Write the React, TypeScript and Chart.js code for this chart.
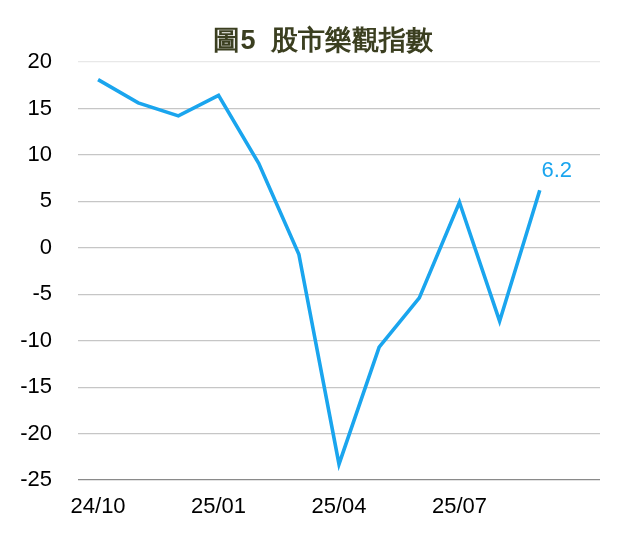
import React, { useEffect, useRef } from "react";
import { Chart, registerables } from "chart.js";

Chart.register(...registerables);

const categories = ["24/10", "24/11", "24/12", "25/01", "25/02", "25/03", "25/04", "25/05", "25/06", "25/07", "25/08", "25/09", "25/10"];
const optimismIndex: (number | null)[] = [18.1, 15.6, 14.2, 16.4, 9.1, -0.7, -23.3, -10.7, -5.4, 4.9, -7.9, 6.2, null];
const shownTickLabels = ["24/10", "25/01", "25/04", "25/07"];
const yTicks = { min: -25, max: 20, step: 5 };
const titleText = "圖5  股市樂觀指數";
const lastLabel = "6.2";

const FONT = "'Liberation Sans', Arial, Helvetica, sans-serif";
const BLUE = "#1aa5ee";

const lastValuePlugin = {
  id: "lastValue",
  afterDatasetsDraw(chart: any) {
    const meta = chart.getDatasetMeta(0);
    const idx = optimismIndex.findIndex((v) => v !== null && String(v) === lastLabel);
    const pt = meta.data[idx];
    if (!pt) return;
    const ctx = chart.ctx;
    ctx.save();
    ctx.font = `22px ${FONT}`;
    ctx.fillStyle = BLUE;
    ctx.textAlign = "center";
    ctx.textBaseline = "middle";
    ctx.fillText(lastLabel, pt.x + 17, pt.y - 19);
    ctx.restore();
  },
};

const titlePlugin = {
  id: "customTitle",
  afterDraw(chart: any) {
    const ctx = chart.ctx;
    ctx.save();
    ctx.font = `bold 27px ${FONT}`;
    ctx.fillStyle = "#3b3f20";
    ctx.textAlign = "center";
    ctx.textBaseline = "middle";
    ctx.fillText(titleText, 323, 42);
    ctx.restore();
  },
};

export default function App() {
  const ref = useRef<HTMLCanvasElement | null>(null);
  useEffect(() => {
    document.body.style.margin = "0";
    const canvas = ref.current;
    if (!canvas) return;
    const chart = new Chart(canvas, {
      type: "line",
      data: {
        labels: categories,
        datasets: [
          {
            data: optimismIndex,
            borderColor: BLUE,
            backgroundColor: BLUE,
            borderWidth: 3.6,
            pointRadius: 0,
            tension: 0,
            spanGaps: false,
          },
        ],
      },
      options: {
        animation: false,
        responsive: false,
        maintainAspectRatio: false,
        layout: { padding: { left: 0, right: 26, top: 62, bottom: 0 } },
        plugins: {
          legend: { display: false },
          tooltip: { enabled: false },
          title: { display: false },
        },
        scales: {
          x: {
            type: "category",
            offset: true,
            grid: { display: false, drawTicks: false },
            border: { display: false },
            ticks: {
              autoSkip: false,
              maxRotation: 0,
              padding: 14,
              color: "#000",
              font: { family: FONT, size: 22 },
              callback: function (_v: any, i: number) {
                const l = categories[i];
                return shownTickLabels.includes(l) ? l : "";
              },
            },
            afterFit: (s: any) => {
              s.height = 64;
            },
          },
          y: {
            min: yTicks.min,
            max: yTicks.max,
            grid: {
              drawTicks: false,
              lineWidth: 1.2,
              color: (c: any) => {
                const v = c.tick?.value;
                if (v === yTicks.min) return "#8a8a8a";
                if (v === yTicks.max) return "#e8e8e8";
                return "#c6c6c6";
              },
            },
            border: { display: false },
            ticks: {
              stepSize: yTicks.step,
              padding: 26,
              color: "#000",
              font: { family: FONT, size: 22 },
            },
            afterFit: (s: any) => {
              s.width = 78;
            },
          },
        },
      },
      plugins: [lastValuePlugin, titlePlugin],
    });
    return () => chart.destroy();
  }, []);
  return <canvas ref={ref} width={626} height={544} style={{ display: "block" }} />;
}
